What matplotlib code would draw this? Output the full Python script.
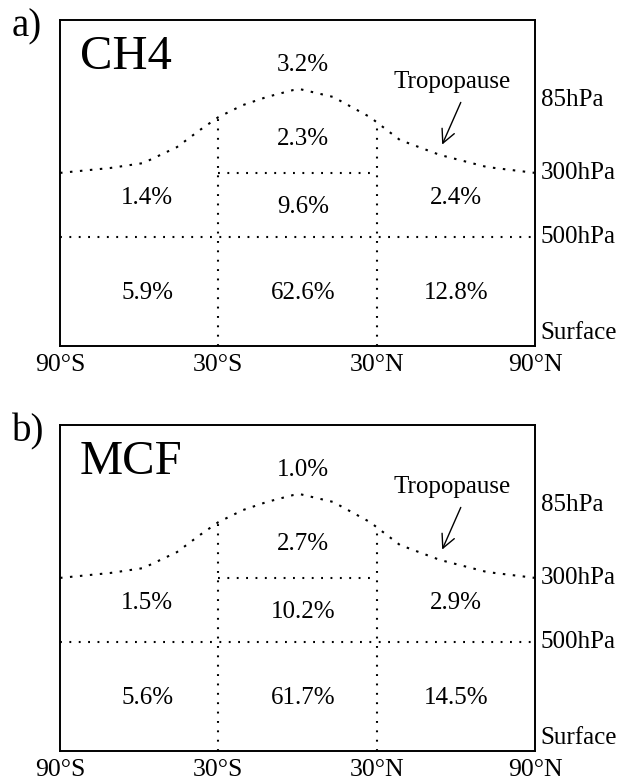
import numpy as np
import matplotlib
matplotlib.use('Agg')
import matplotlib.pyplot as plt

plt.rcParams['font.family'] = ['Liberation Serif', 'DejaVu Serif']

# latitude edges of the three boxes
lat_ticks = [-90, -30, 30, 90]
lat_labels = ['90°S', '30°S', '30°N', '90°N']

# pressure levels (label, height as fraction of panel)
level_names = ['Surface', '500hPa', '300hPa', '85hPa']
level_y = [0.04, 0.334, 0.531, 0.755]

# tropopause (lat, height fraction)
trop_lat = [-90, -71, -58.5, -45.7, -36.9, -30, -20.7, -11.6, -1.7, 0.9, 13.5, 27.5, 38.8, 54, 71.8, 90]
trop_h = [0.531, 0.546, 0.561, 0.610, 0.663, 0.702, 0.739, 0.764, 0.785, 0.788, 0.764, 0.702, 0.632, 0.586, 0.549, 0.531]

# percentages per box: lower row, middle row, upper-tropo box, stratosphere
species = ['CH4', 'MCF']
panel_tags = ['a)', 'b)']
lower_row = [[5.9, 62.6, 12.8], [5.6, 61.7, 14.5]]
mid_row = [[1.4, 9.6, 2.4], [1.5, 10.2, 2.9]]
upper_trop = [2.3, 2.7]
strat = [3.2, 1.0]

W, H = 619, 783
fig = plt.figure(figsize=(W / 100, H / 100), dpi=100)

dot = (0, (0.9, 3.6))
tdot = (0, (1.2, 3.6))
fs = 18


def dotted(ax, x, y, ls=dot, **kw):
    ax.plot(x, y, color='black', lw=1.5, linestyle=ls,
            dash_capstyle='butt', **kw)


def draw_panel(ax, i):
    ax.set_xlim(-90, 90)
    ax.set_ylim(0, 1)
    ax.set_yticks([])
    ax.set_xticks(lat_ticks)
    ax.set_xticklabels(lat_labels, fontsize=18.5)
    ax.tick_params(axis='x', length=0, pad=6)
    for s in ax.spines.values():
        s.set_linewidth(1.4)

    y500 = level_y[1]
    y300 = level_y[2]
    # tropopause
    dotted(ax, trop_lat, trop_h, ls=tdot, clip_on=False)
    # 500 hPa line across
    dotted(ax, [-90, 90], [y500, y500])
    # 300 hPa line in the tropics
    dotted(ax, [-30, 30], [y300, y300])
    # 30S / 30N walls up to the tropopause
    for lat in (-30, 30):
        top = np.interp(lat, trop_lat, trop_h)
        dotted(ax, [lat, lat], [0, top])

    # values
    xs = [-57, 2, 60]
    for x, v in zip(xs, lower_row[i]):
        ax.text(x, 0.163, f'{v}%', ha='center', va='center', fontsize=fs)
    ax.text(xs[0], 0.455, f'{mid_row[i][0]}%', ha='center', va='center', fontsize=fs)
    ax.text(xs[1], 0.426, f'{mid_row[i][1]}%', ha='center', va='center', fontsize=fs)
    ax.text(xs[2], 0.455, f'{mid_row[i][2]}%', ha='center', va='center', fontsize=fs)
    ax.text(xs[1], 0.635, f'{upper_trop[i]}%', ha='center', va='center', fontsize=fs)
    ax.text(xs[1], 0.862, f'{strat[i]}%', ha='center', va='center', fontsize=fs)

    # level names on the right
    tr = ax.get_yaxis_transform()
    for name, y in zip(level_names, level_y):
        ax.text(1.012, y, name, transform=tr, ha='left', va='center', fontsize=18)

    ax.text(58.5, 0.81, 'Tropopause', ha='center', va='center', fontsize=18)
    ax.annotate('', xy=(54.4, 0.61), xytext=(62.3, 0.755),
                arrowprops=dict(arrowstyle='->', lw=1.0, color='black',
                                mutation_scale=24))

    ax.text(-82.4, 0.885, species[i], ha='left', va='center', fontsize=35)


top_px = [20, 425]
for i in range(2):
    ax = fig.add_axes([60 / W, 1 - (top_px[i] + 326) / H, 475 / W, 326 / H])
    draw_panel(ax, i)
    fig.text(12 / W, 1 - (top_px[i] + 7) / H, panel_tags[i], ha='left', va='center', fontsize=28)

fig.savefig('out.png', dpi=100)
